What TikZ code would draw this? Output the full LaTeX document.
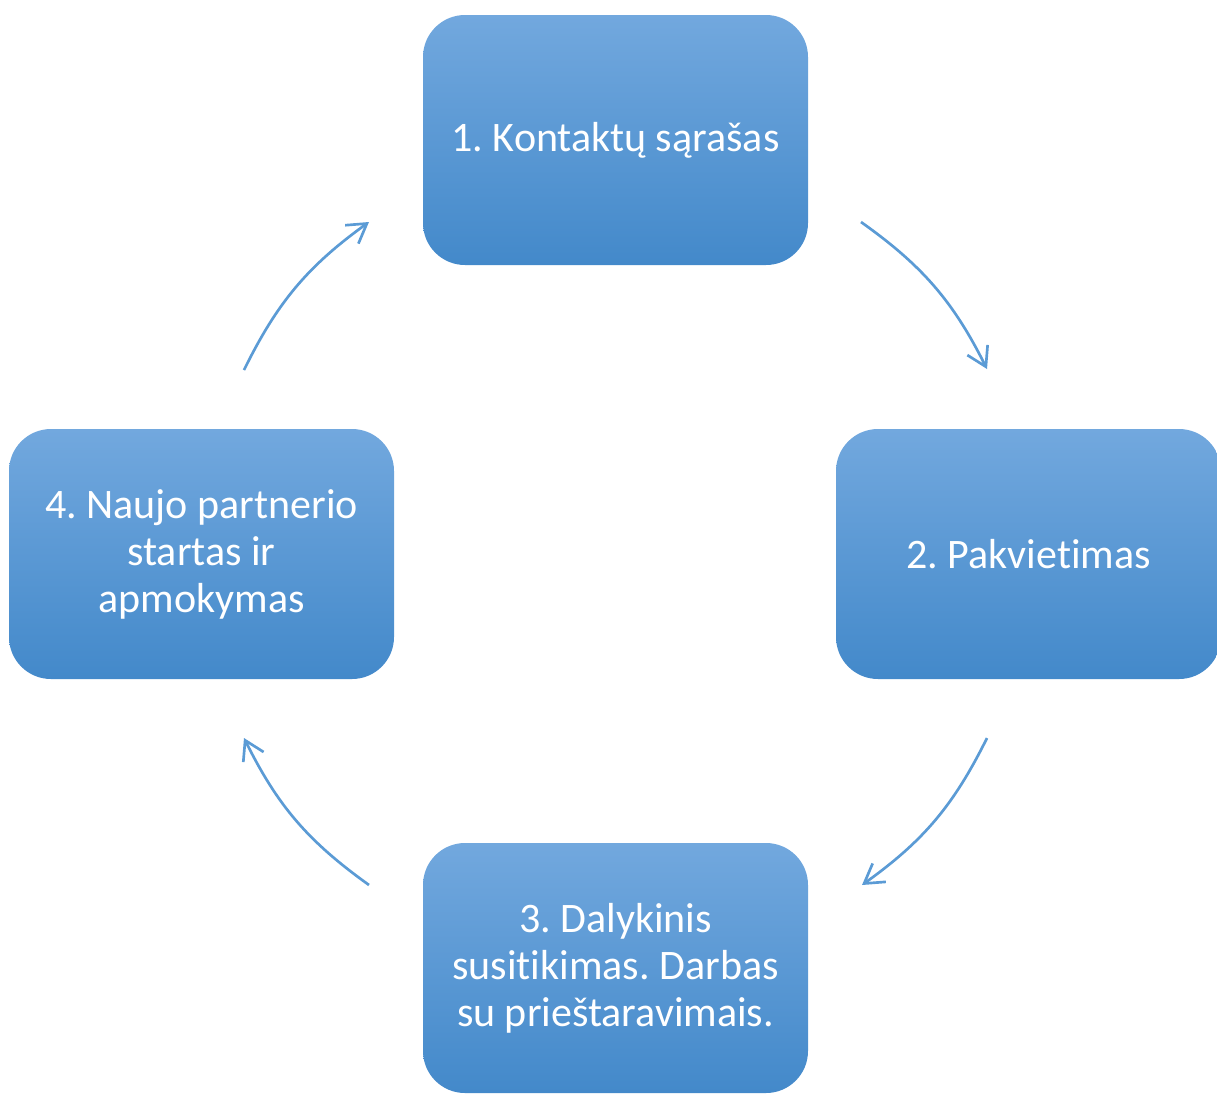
\documentclass[tikz,border=0pt]{standalone}
\usepackage{fontspec}
\setmainfont[Ligatures=NoCommon]{Carlito}
\usetikzlibrary{arrows.meta}

\definecolor{boxtop}{RGB}{114,168,222}
\definecolor{boxbot}{RGB}{67,137,202}
\definecolor{cyc}{RGB}{91,155,213}

\tikzset{every picture/.style={line width=0.75pt}}
\tikzset{
  stepbox/.style={rounded corners=31.5pt, top color=boxtop, bottom color=boxbot,
    minimum width=288.75pt, minimum height=187.5pt, inner sep=0pt,
    text=white, align=center, font=\fontsize{31.5}{35.25}\selectfont},
  cyclearrow/.style={draw=cyc, line width=2pt, -{Straight Barb[length=14pt,width=17pt]}}
}

\begin{document}
\frenchspacing
\begin{tikzpicture}[x=0.75pt,y=0.75pt,yscale=-1,xscale=1]
		\useasboundingbox (0,0) rectangle (1217,1093);

		%Rounded Rect: step 1
		\node[stepbox] (kontaktai) at (615.5,140) {1. Kontaktų sąrašas};
		%Rounded Rect: step 2
		\node[stepbox] (pakvietimas) at (1028.5,554) {2. Pakvietimas};
		%Rounded Rect: step 3
		\node[stepbox] (susitikimas) at (615.5,968) {3. Dalykinis\\susitikimas. Darbas\\su prieštaravimais.};
		%Rounded Rect: step 4
		\node[stepbox] (startas) at (201.5,554) {4. Naujo partnerio\\startas ir\\apmokymas};

		% Arrow ends
		\coordinate (a1s) at (861,222);
		\coordinate (a1e) at (987,369);
		\coordinate (a2s) at (987,738);
		\coordinate (a2e) at (862,885);
		\coordinate (a3s) at (369,885);
		\coordinate (a3e) at (244,738);
		\coordinate (a4s) at (244,370);
		\coordinate (a4e) at (369,222);

		%Curved Arrows
		\draw[cyclearrow] (a1s) to[bend right=14] (a1e);
		\draw[cyclearrow] (a2s) to[bend right=14] (a2e);
		\draw[cyclearrow] (a3s) to[bend right=14] (a3e);
		\draw[cyclearrow] (a4s) to[bend right=14] (a4e);

\end{tikzpicture}
\end{document}
